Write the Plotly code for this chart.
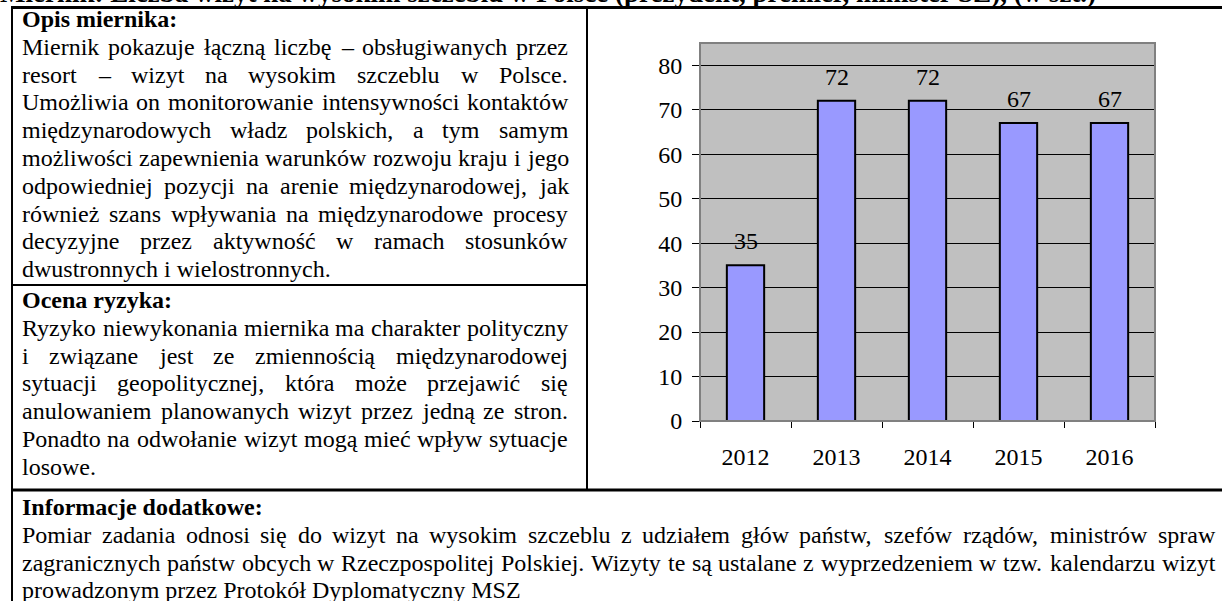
import plotly.graph_objects as go

# ---------------- data ----------------
years = ["2012", "2013", "2014", "2015", "2016"]
visits = [35, 72, 72, 67, 67]
y_ticks = [0, 10, 20, 30, 40, 50, 60, 70, 80]

title_text = "Miernik: Liczba wizyt na wysokim szczeblu w Polsce (prezydent, premier, minister SZ), (w szt.)"
opis_header = "Opis miernika:"
opis_lines = [
    "Miernik pokazuje łączną liczbę – obsługiwanych przez",
    "resort – wizyt na wysokim szczeblu w Polsce.",
    "Umożliwia on monitorowanie intensywności kontaktów",
    "międzynarodowych władz polskich, a tym samym",
    "możliwości zapewnienia warunków rozwoju kraju i jego",
    "odpowiedniej pozycji na arenie międzynarodowej, jak",
    "również szans wpływania na międzynarodowe procesy",
    "decyzyjne przez aktywność w ramach stosunków",
    "dwustronnych i wielostronnych.",
]
ocena_header = "Ocena ryzyka:"
ocena_lines = [
    "Ryzyko niewykonania miernika ma charakter polityczny",
    "i związane jest ze zmiennością międzynarodowej",
    "sytuacji geopolitycznej, która może przejawić się",
    "anulowaniem planowanych wizyt przez jedną ze stron.",
    "Ponadto na odwołanie wizyt mogą mieć wpływ sytuacje",
    "losowe.",
]
info_header = "Informacje dodatkowe:"
info_lines = [
    "Pomiar zadania odnosi się do wizyt na wysokim szczeblu z udziałem głów państw, szefów rządów, ministrów spraw",
    "zagranicznych państw obcych w Rzeczpospolitej Polskiej. Wizyty te są ustalane z wyprzedzeniem w tzw. kalendarzu wizyt",
    "prowadzonym przez Protokół Dyplomatyczny MSZ",
]

# ---------------- layout helpers ----------------
W, H = 1222, 601
FS = 24
FONT = "Liberation Serif, Times New Roman, Times, DejaVu Serif, serif"


def px(x):
    return x / W


def py(y):
    return 1 - y / H


TIMES = {' ': 250, '!': 333, ',': 250, '-': 333, '.': 250, ':': 278, '(': 333, ')': 333, '–': 500,
         'a': 444, 'b': 500, 'c': 444, 'd': 500, 'e': 444, 'f': 333, 'g': 500, 'h': 500, 'i': 278,
         'j': 278, 'k': 500, 'l': 278, 'm': 778, 'n': 500, 'o': 500, 'p': 500, 'q': 500, 'r': 333,
         's': 389, 't': 278, 'u': 500, 'v': 500, 'w': 722, 'x': 500, 'y': 500, 'z': 444,
         'A': 722, 'B': 667, 'C': 667, 'D': 722, 'E': 611, 'F': 556, 'G': 722, 'H': 722, 'I': 333,
         'J': 389, 'K': 722, 'L': 611, 'M': 889, 'N': 722, 'O': 722, 'P': 556, 'Q': 722, 'R': 667,
         'S': 556, 'T': 611, 'U': 722, 'V': 722, 'W': 944, 'X': 722, 'Y': 722, 'Z': 611}
ACC = {'ą': 'a', 'ę': 'e', 'ł': 'l', 'ż': 'z', 'ź': 'z', 'ó': 'o', 'ś': 's', 'ć': 'c', 'ń': 'n',
       'Ż': 'Z', 'Ł': 'L', 'Ś': 'S'}


def text_w(s, fs=FS):
    return sum(TIMES.get(ACC.get(c, c), 500) for c in s) / 1000 * fs


annotations = []


def add_text(s, x, yc, bold=False, fs=FS):
    annotations.append(dict(
        text=f"<b>{s}</b>" if bold else s, x=px(x), y=py(yc), xref="paper", yref="paper",
        xanchor="left", yanchor="middle", showarrow=False, borderpad=0, borderwidth=0,
        font=dict(family=FONT, size=fs, color="black")))


def add_line(s, x0, x1, yc, justify):
    words = s.split(" ")
    if not justify or len(words) < 2:
        add_text(s, x0, yc)
        return
    ws = [text_w(w) for w in words]
    gap = (x1 - x0 - sum(ws)) / (len(words) - 1)
    gap = max(gap, 3)
    x = x0
    for w, wd in zip(words, ws):
        add_text(w, x, yc)
        x += wd + gap


LH = 27.8
# title (cut off at top of the page)
add_text(title_text, 0, -7, bold=True, fs=27)

# left column
add_text(opis_header, 22, 19, bold=True)
for i, s in enumerate(opis_lines):
    add_line(s, 22, 568, 19 + LH * (i + 1), i < len(opis_lines) - 1)

add_text(ocena_header, 22, 300, bold=True)
for i, s in enumerate(ocena_lines):
    add_line(s, 22, 568, 300 + LH * (i + 1), i < len(ocena_lines) - 1)

add_text(info_header, 22, 507, bold=True)
for i, s in enumerate(info_lines):
    add_line(s, 22, 1215, 507 + LH * (i + 1), i < len(info_lines) - 1)

# data labels above bars (x given as category index)
for i, v in enumerate(visits):
    annotations.append(dict(
        text=str(v), x=i, y=v, xref="x", yref="y", xanchor="center", yanchor="bottom",
        yshift=9, showarrow=False, font=dict(family=FONT, size=FS, color="black")))

# table lines
shapes = []


def hline(y, x0, x1, w):
    shapes.append(dict(type="line", xref="paper", yref="paper", x0=px(x0), x1=px(x1),
                       y0=py(y), y1=py(y), line=dict(color="black", width=w)))


def vline(x, y0, y1, w):
    shapes.append(dict(type="line", xref="paper", yref="paper", x0=px(x), x1=px(x),
                       y0=py(y0), y1=py(y1), line=dict(color="black", width=w)))


hline(7.5, 11, W + 5, 3)
vline(12, 6, H + 5, 2)
vline(587, 7, 490, 2)
hline(285, 12, 587, 2)
hline(490, 11, W + 5, 3)

# plot frame (gray)
x_dom = [700 / W, 1155 / W]
y_dom = [1 - 421 / H, 1 - 43 / H]
shapes.append(dict(type="rect", xref="paper", yref="paper", x0=x_dom[0], x1=x_dom[1],
                   y0=y_dom[0], y1=y_dom[1], line=dict(color="#808080", width=2), layer="above"))

fig = go.Figure()
fig.add_trace(go.Bar(
    x=years, y=visits, marker=dict(color="#9999FF", line=dict(color="black", width=2)),
    showlegend=False, hoverinfo="x+y"))

fig.update_layout(
    width=W, height=H, margin=dict(l=0, r=0, t=0, b=0, autoexpand=False),
    paper_bgcolor="white", plot_bgcolor="#C0C0C0",
    bargap=0.59,
    font=dict(family=FONT, size=FS, color="black"),
    annotations=annotations, shapes=shapes,
    xaxis=dict(domain=x_dom, type="category", range=[-0.5, len(years) - 0.5],
               tickson="boundaries", ticks="outside", ticklen=6, tickangle=0, automargin=False,
               tickcolor="black", tickwidth=1, showline=True, linecolor="black", linewidth=1,
               showgrid=False, ticklabelstandoff=14,
               tickfont=dict(family=FONT, size=FS, color="black")),
    yaxis=dict(domain=y_dom, range=[0, 85], tickvals=y_ticks, ticks="outside", ticklen=7,
               automargin=False,
               tickcolor="black", tickwidth=1, showline=True, linecolor="black", linewidth=1,
               showgrid=True, gridcolor="black", gridwidth=1, zeroline=False,
               ticklabelstandoff=5,
               tickfont=dict(family=FONT, size=FS, color="black")),
)

fig.write_html("out.html", config={"displayModeBar": False},
               post_script="document.body.style.margin='0';document.body.style.overflow='hidden';")
